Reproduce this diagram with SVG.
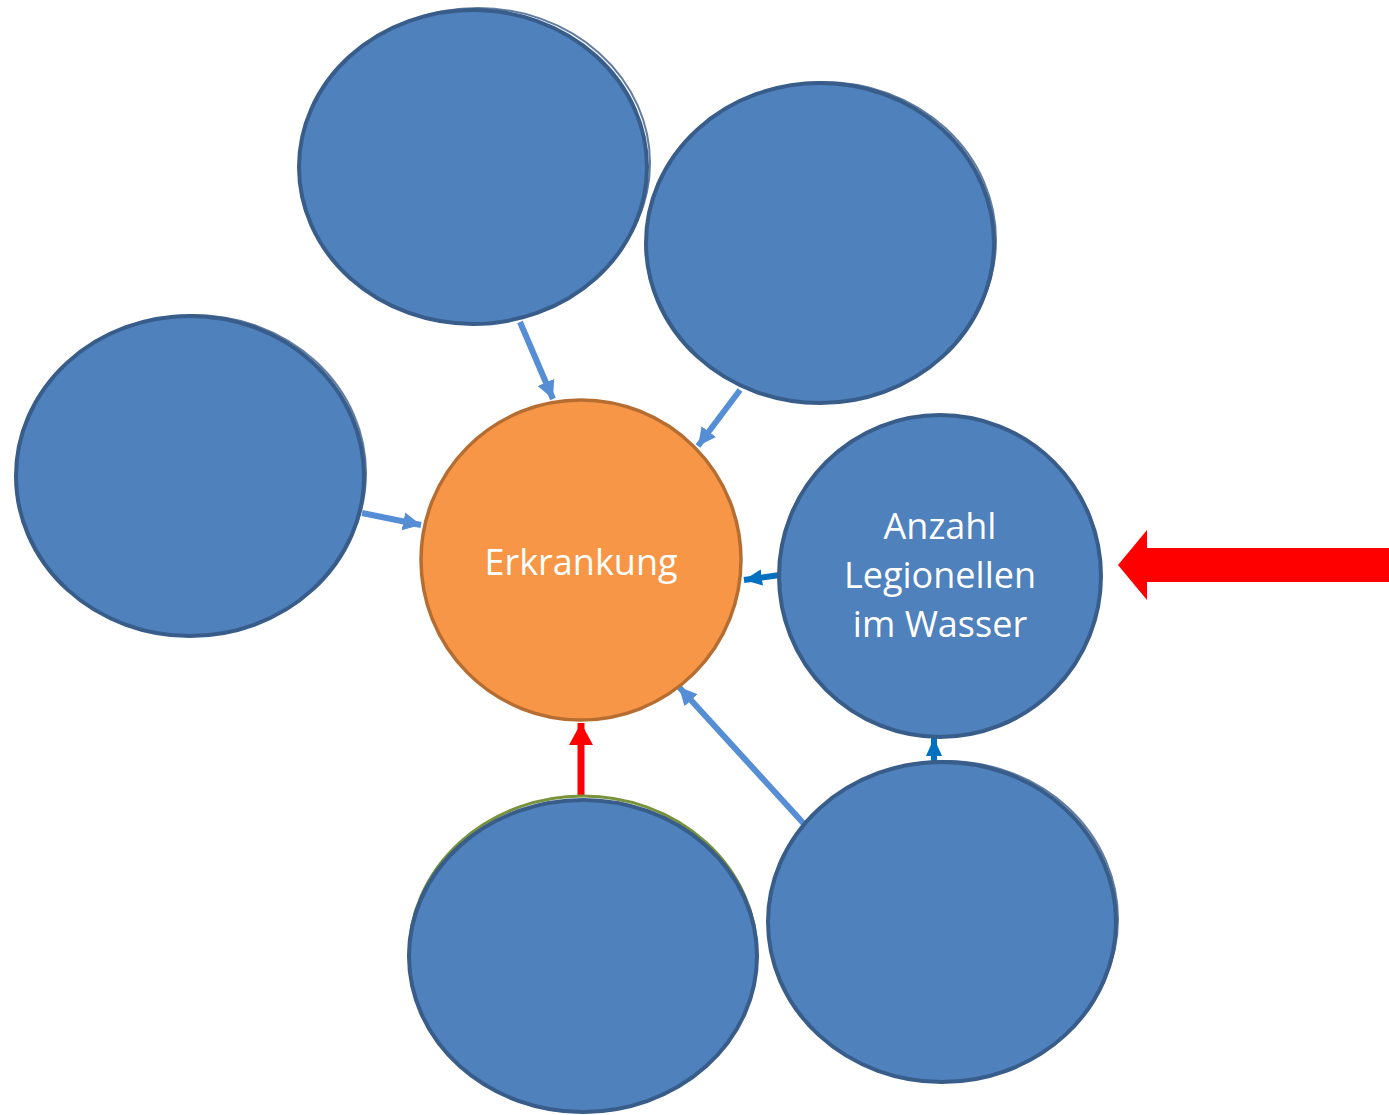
<svg xmlns="http://www.w3.org/2000/svg" width="1389" height="1115" viewBox="0 0 1389 1115">
<style>
.blue{fill:#4F81BD;stroke:#385D8A;stroke-width:4}
.ghost{fill:none;stroke:#385D8A;stroke-width:2;opacity:0.8}
.orange{fill:#F79646;stroke:#B66D31;stroke-width:3.5}
.lbl{fill:#FFFFFF;font-family:"Open Sans","Liberation Sans",sans-serif;font-size:36px;text-anchor:middle}
.lc{stroke:#558ED5;stroke-width:6;fill:none}
.dc{stroke:#0070C0;stroke-width:6;fill:none}
.rc{stroke:#FF0000;stroke-width:7;fill:none}
</style>
<defs>
<marker id="ahL" markerUnits="userSpaceOnUse" markerWidth="20" markerHeight="20" refX="18" refY="10" orient="auto"><path d="M0,1 L18,10 L0,19 Z" fill="#558ED5"/></marker>
<marker id="ahD" markerUnits="userSpaceOnUse" markerWidth="20" markerHeight="20" refX="18" refY="10" orient="auto"><path d="M0,2 L18,10 L0,18 Z" fill="#0070C0"/></marker>
<marker id="ahR" markerUnits="userSpaceOnUse" markerWidth="24" markerHeight="26" refX="22" refY="13" orient="auto"><path d="M0,1 L22,13 L0,25 Z" fill="#FF0000"/></marker>
</defs>
<g id="connectors">
<line class="lc" x1="520" y1="322" x2="553" y2="399" marker-end="url(#ahL)"/>
<line class="lc" x1="740" y1="390" x2="698" y2="446" marker-end="url(#ahL)"/>
<line class="lc" x1="362" y1="513" x2="421" y2="525" marker-end="url(#ahL)"/>
<line class="dc" x1="780" y1="575" x2="744" y2="580" marker-end="url(#ahD)"/>
<line class="lc" x1="805" y1="825" x2="679" y2="687" marker-end="url(#ahL)"/>
<line class="dc" x1="934" y1="762" x2="934" y2="738" marker-end="url(#ahD)"/>
<line class="rc" x1="581" y1="795" x2="581" y2="723" marker-end="url(#ahR)"/>
</g>
<g id="n-top">
<ellipse class="ghost" cx="478" cy="163" rx="172" ry="155"/>
<ellipse class="blue" cx="473" cy="167" rx="174" ry="157"/>
</g>
<g id="n-topright">
<ellipse class="ghost" cx="824" cy="240" rx="172" ry="158"/>
<ellipse class="blue" cx="820" cy="243" rx="174" ry="160"/>
</g>
<g id="n-left">
<ellipse class="ghost" cx="194" cy="473" rx="172" ry="158"/>
<ellipse class="blue" cx="190" cy="476" rx="174" ry="160"/>
</g>
<g id="n-erkrankung">
<circle class="orange" cx="581" cy="560" r="160"/>
<text class="lbl" x="581" y="575">Erkrankung</text>
</g>
<g id="n-anzahl">
<ellipse class="blue" cx="940" cy="576" rx="161" ry="161"/>
<text class="lbl" x="940" y="539">Anzahl</text>
<text class="lbl" x="940" y="588">Legionellen</text>
<text class="lbl" x="940" y="637">im Wasser</text>
</g>
<g id="n-bottom">
<ellipse cx="583" cy="954" rx="174" ry="158" fill="none" stroke="#77933C" stroke-width="3"/>
<ellipse class="blue" cx="583" cy="956" rx="174" ry="156"/>
</g>
<g id="n-bottomright">
<ellipse class="ghost" cx="946" cy="919" rx="172" ry="158"/>
<ellipse class="blue" cx="942" cy="922" rx="174" ry="160"/>
</g>
<g id="bigarrow">
<path d="M1389,548 L1147,548 L1147,530 L1118,565 L1147,600 L1147,582 L1389,582 Z" fill="#FF0000"/>
</g>
</svg>
